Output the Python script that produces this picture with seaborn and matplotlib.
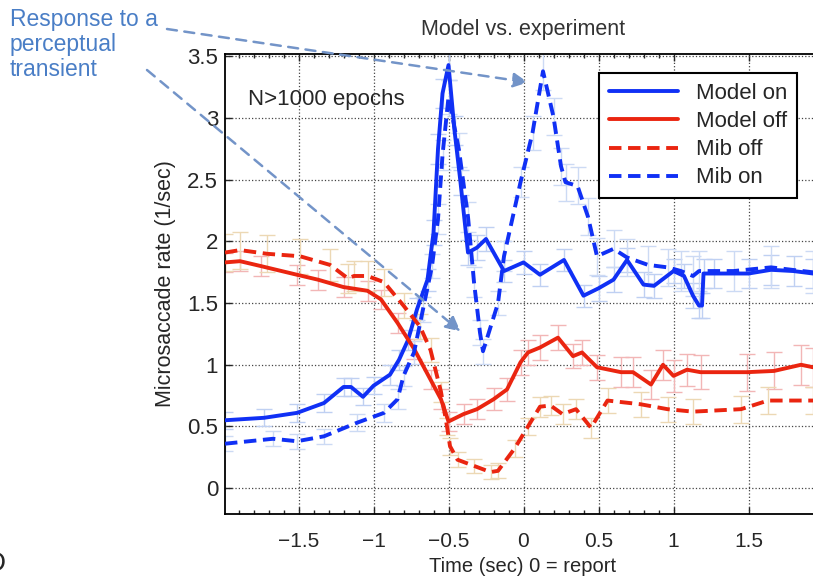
import matplotlib
matplotlib.use("Agg")
import matplotlib.pyplot as plt
import matplotlib.ticker as mticker
import seaborn as sns
import numpy as np
import pandas as pd

# data
t_model_on = [-1.99, -1.73, -1.51, -1.33, -1.2, -1.15, -1.07, -1.0, -0.89, -0.83, -0.77, -0.71,
              -0.64, -0.6, -0.57, -0.54, -0.5, -0.46, -0.42, -0.37, -0.31, -0.25, -0.13, 0.0,
              0.11, 0.27, 0.4, 0.5, 0.6, 0.69, 0.8, 0.87, 1.0, 1.07, 1.13, 1.17, 1.19, 1.2,
              1.27, 1.5, 1.65, 1.8, 1.93]
model_on = [0.55, 0.57, 0.61, 0.69, 0.82, 0.82, 0.74, 0.83, 0.92, 1.04, 1.2, 1.45,
            1.69, 2.07, 2.75, 3.2, 3.43, 2.9, 2.48, 1.91, 1.95, 2.02, 1.76, 1.83,
            1.73, 1.85, 1.56, 1.62, 1.69, 1.85, 1.65, 1.64, 1.76, 1.72, 1.56, 1.48, 1.48, 1.74,
            1.74, 1.74, 1.77, 1.76, 1.74]
model_on_err = [0.07, 0.07, 0.07, 0.07, 0.07, 0.07, 0.07, 0.07, 0.08, 0.08, 0.08, 0.09,
                0.09, 0.1, 0.12, 0.12, 0.12, 0.12, 0.1, 0.1, 0.1, 0.1, 0.09, 0.09,
                0.09, 0.09, 0.09, 0.1, 0.1, 0.1, 0.1, 0.1, 0.1, 0.1, 0.1, 0.1, 0.1, 0.12,
                0.12, 0.12, 0.12, 0.12, 0.12]

t_model_off = [-1.99, -1.89, -1.75, -1.51, -1.37, -1.2, -1.04, -0.95, -0.84, -0.73, -0.62, -0.55,
               -0.5, -0.4, -0.31, -0.2, -0.11, -0.02, 0.03, 0.11, 0.23, 0.33, 0.39, 0.49,
               0.65, 0.73, 0.85, 0.93, 1.0, 1.09, 1.18, 1.49, 1.67, 1.85, 1.93]
model_off = [1.83, 1.84, 1.8, 1.73, 1.69, 1.63, 1.6, 1.53, 1.34, 1.13, 0.88, 0.72,
             0.54, 0.6, 0.64, 0.72, 0.8, 1.02, 1.1, 1.14, 1.22, 1.07, 1.1, 0.98,
             0.94, 0.94, 0.84, 1.0, 0.91, 0.96, 0.94, 0.94, 0.95, 1.0, 0.98]
model_off_err = [0.08, 0.08, 0.08, 0.08, 0.08, 0.08, 0.08, 0.08, 0.08, 0.08, 0.08, 0.08,
                 0.08, 0.08, 0.08, 0.09, 0.09, 0.1, 0.1, 0.1, 0.1, 0.1, 0.1, 0.1,
                 0.12, 0.12, 0.12, 0.12, 0.13, 0.13, 0.14, 0.15, 0.15, 0.16, 0.16]

t_mib_off = [-1.99, -1.89, -1.71, -1.49, -1.29, -1.17, -1.13, -1.04, -0.93, -0.8, -0.69, -0.62,
             -0.55, -0.51, -0.49, -0.44, -0.33, -0.22, -0.17, -0.06, 0.03, 0.11, 0.18, 0.26,
             0.35, 0.45, 0.56, 0.78, 0.96, 1.13, 1.45, 1.63, 1.93]
mib_off = [1.91, 1.93, 1.9, 1.88, 1.81, 1.7, 1.72, 1.72, 1.67, 1.48, 1.31, 1.12,
           0.78, 0.5, 0.34, 0.23, 0.18, 0.13, 0.14, 0.32, 0.5, 0.66, 0.67, 0.6,
           0.64, 0.49, 0.71, 0.68, 0.64, 0.62, 0.64, 0.71, 0.71]
mib_off_err = [0.15, 0.15, 0.15, 0.14, 0.13, 0.12, 0.12, 0.12, 0.11, 0.1, 0.1, 0.1,
               0.08, 0.07, 0.07, 0.06, 0.06, 0.06, 0.06, 0.07, 0.07, 0.08, 0.08, 0.08,
               0.08, 0.08, 0.1, 0.1, 0.1, 0.1, 0.11, 0.11, 0.11]

t_mib_on = [-1.99, -1.67, -1.51, -1.33, -1.11, -0.93, -0.84, -0.8, -0.73, -0.67, -0.61, -0.57,
            -0.54, -0.5, -0.43, -0.37, -0.33, -0.29, -0.27, -0.17, -0.13, -0.02, 0.06, 0.13,
            0.2, 0.25, 0.28, 0.36, 0.43, 0.49, 0.6, 0.69, 0.83, 0.96, 1.05, 1.13, 1.17,
            1.4, 1.65, 1.93]
mib_on = [0.36, 0.4, 0.38, 0.42, 0.53, 0.61, 0.72, 0.91, 1.1, 1.45, 1.8, 2.18,
          2.7, 3.17, 2.74, 2.2, 1.67, 1.26, 1.11, 1.5, 1.88, 2.48, 2.88, 3.38,
          3.01, 2.61, 2.48, 2.45, 2.2, 1.88, 1.94, 1.87, 1.81, 1.79, 1.76, 1.72, 1.76,
          1.76, 1.79, 1.75]
mib_on_err = [0.06, 0.06, 0.06, 0.06, 0.07, 0.07, 0.08, 0.08, 0.09, 0.1, 0.1, 0.12,
              0.12, 0.14, 0.14, 0.12, 0.12, 0.1, 0.1, 0.1, 0.12, 0.12, 0.14, 0.15,
              0.15, 0.15, 0.15, 0.15, 0.15, 0.15, 0.15, 0.15, 0.15, 0.15, 0.16, 0.16, 0.16,
              0.16, 0.17, 0.17]

series = [
    ("Model on", t_model_on, model_on, model_on_err, "#1030f5", "-", "#bfd0f2"),
    ("Model off", t_model_off, model_off, model_off_err, "#ea2510", "-", "#f2b6b6"),
    ("Mib off", t_mib_off, mib_off, mib_off_err, "#ea2510", "--", "#ecd8b4"),
    ("Mib on", t_mib_on, mib_on, mib_on_err, "#1030f5", "--", "#ccdaf4"),
]

sns.set_style("white")
plt.rcParams["font.family"] = ["Liberation Sans", "DejaVu Sans"]

fig = plt.figure(figsize=(8.13, 5.79), dpi=100)
ax = fig.add_axes([225 / 813, 65 / 579, 598.5 / 813, 460 / 579])

# light error bars first
for name, t, y, e, col, ls, ecol in series:
    ax.errorbar(t, y, yerr=e, fmt="none", ecolor=ecol, elinewidth=1.0,
                capsize=5.5, capthick=1.0, zorder=1)

for name, t, y, e, col, ls, ecol in series:
    df = pd.DataFrame({"t": t, "rate": y})
    l = sns.lineplot(data=df, x="t", y="rate", ax=ax, color=col, lw=2.8,
                     label=name, zorder=3)
    if ls == "--":
        l.lines[-1].set_dashes((3.2, 1.7))

ax.set_xlim(-1.99, 2.0)
ax.set_ylim(-0.21, 3.52)

ax.set_xticks([-1.5, -1, -0.5, 0, 0.5, 1, 1.5])
ax.set_yticks([0, 0.5, 1, 1.5, 2, 2.5, 3, 3.5])
ax.xaxis.set_minor_locator(mticker.FixedLocator(
    [v / 10 for v in range(-19, 10) if v % 5 != 0]))
fmt = mticker.FuncFormatter(lambda v, p: "{:g}".format(v).replace("-", "\u2212"))
ax.xaxis.set_major_formatter(fmt)
ax.yaxis.set_major_formatter(fmt)

ax.tick_params(axis="x", which="major", direction="in", length=5, width=1,
               top=True, bottom=True, pad=13, labelsize=15)
ax.tick_params(axis="x", which="minor", direction="in", length=3, width=1,
               top=True, bottom=True)
ax.tick_params(axis="y", which="major", direction="in", length=5, width=1,
               left=True, right=False, pad=5, labelsize=16)

ax.grid(True, which="major", linestyle=":", color="#444444", lw=0.9)
for s in ax.spines.values():
    s.set_color("black")
    s.set_linewidth(1.3)

ax.set_xlabel("")
ax.set_ylabel("Microsaccade rate (1/sec)", fontsize=15.5, labelpad=8)
fig.text(523 / 813, 1 - 567 / 579, "Time (sec) 0 = report", fontsize=14.5,
         ha="center", va="center")
fig.text(523 / 813, 1 - 30 / 579, "Model vs. experiment", fontsize=15.5,
         color="#333333", ha="center", va="center")

ax.text(248 / 813, 1 - 100 / 579, "N>1000 epochs", fontsize=16,
        transform=fig.transFigure, va="center", ha="left")

leg = ax.legend(loc="upper right", bbox_to_anchor=(808 / 813, 1 - 62 / 579),
                bbox_transform=fig.transFigure, fontsize=16, handlelength=3.1,
                labelspacing=0.32, borderpad=0.45, handletextpad=0.8,
                fancybox=False, framealpha=1, edgecolor="black")
leg.get_frame().set_linewidth(1.5)

# annotation
ann_col = "#4a7ec6"
fig.text(10 / 813, 1 - 8 / 579, "Response to a\nperceptual\ntransient",
         fontsize=16.5, color=ann_col, ha="left", va="top", linespacing=1.12)
arrow_col = "#7394c8"
ax.annotate("", xy=(0.03, 3.29), xycoords="data",
            xytext=(167, 579 - 29), textcoords="figure pixels",
            arrowprops=dict(arrowstyle="-|>", color=arrow_col, lw=1.8,
                            linestyle=(0, (4, 3)), mutation_scale=22, shrinkA=0, shrinkB=0),
            annotation_clip=False, zorder=5)
ax.annotate("", xy=(-0.42, 1.27), xycoords="data",
            xytext=(147, 579 - 70), textcoords="figure pixels",
            arrowprops=dict(arrowstyle="-|>", color=arrow_col, lw=1.8,
                            linestyle=(0, (4, 3)), mutation_scale=22, shrinkA=0, shrinkB=0),
            annotation_clip=False, zorder=5)

# panel letter, cut by the left border
fig.text(-0.017, 0.004, "D", fontsize=20, ha="left", va="bottom")

plt.savefig("out.png", dpi=100)
